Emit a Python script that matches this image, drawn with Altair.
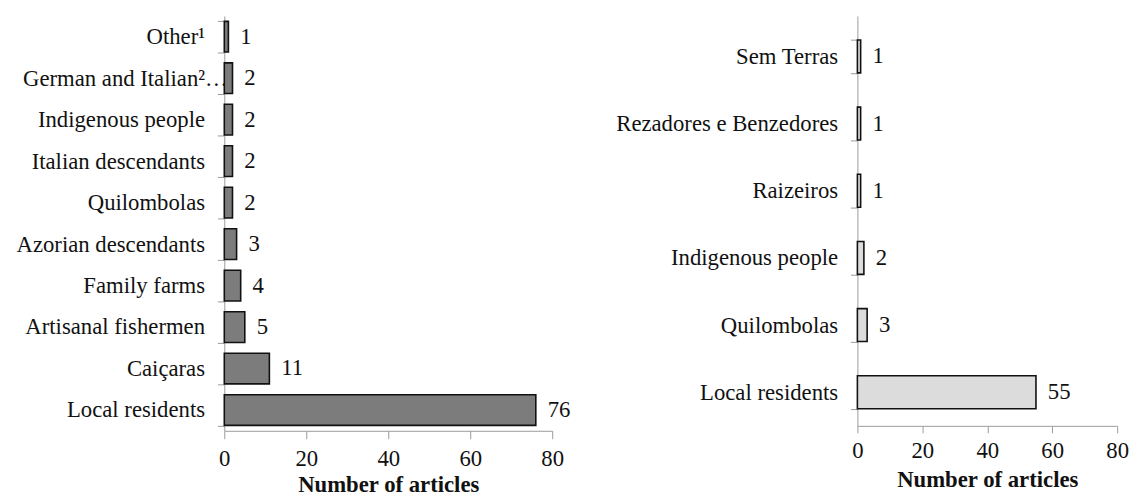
import altair as alt
import pandas as pd

left_cats = ["Other¹", "German and Italian²…", "Indigenous people", "Italian descendants",
             "Quilombolas", "Azorian descendants", "Family farms", "Artisanal fishermen",
             "Caiçaras", "Local residents"]
left_vals = [1, 2, 2, 2, 2, 3, 4, 5, 11, 76]

right_cats = ["Sem Terras", "Rezadores e Benzedores", "Raizeiros", "Indigenous people",
              "Quilombolas", "Local residents"]
right_vals = [1, 1, 1, 2, 3, 55]

x_ticks = [0, 20, 40, 60, 80]

FONT = "Times New Roman, Liberation Serif, Times, serif"
AXIS_GRAY = "#9a9a9a"
FS = 23

left_df = pd.DataFrame({"cat": left_cats, "val": left_vals})
right_df = pd.DataFrame({"cat": right_cats, "val": right_vals})


def panel(df, cats, width, height, pad_inner, pad_outer, align, fill, label_pad,
          x_lab_pad, x_tick, title_pad):
    y = alt.Y("cat:N", sort=cats,
              scale=alt.Scale(paddingInner=pad_inner, paddingOuter=pad_outer, align=align),
              axis=alt.Axis(title=None, tickBand="extent", tickSize=7, labelPadding=label_pad,
                            labelFontSize=FS, labelFont=FONT, labelColor="#111",
                            domainColor=AXIS_GRAY, tickColor=AXIS_GRAY,
                            labelLimit=400))
    x = alt.X("val:Q", scale=alt.Scale(domain=[0, 80], nice=False),
              axis=alt.Axis(title="Number of articles", values=x_ticks, grid=False,
                            labelFlush=False,
                            tickSize=x_tick, labelPadding=x_lab_pad,
                            labelFontSize=FS, labelFont=FONT, labelColor="#111",
                            titleFontSize=FS, titleFont=FONT, titleFontWeight="bold",
                            titleColor="#111", titlePadding=title_pad,
                            domainColor=AXIS_GRAY, tickColor=AXIS_GRAY))
    bars = alt.Chart(df).mark_bar(fill=fill, stroke="#111", strokeWidth=1.6).encode(x=x, y=y)
    text = alt.Chart(df).mark_text(align="left", baseline="middle", dx=12, fontSize=FS,
                                   font=FONT, color="#111").encode(
        x=alt.X("val:Q"), y=alt.Y("cat:N", sort=cats), text=alt.Text("val:Q"))
    return (bars + text).properties(width=width, height=height)


left_pad = alt.ExprRef("datum.value == 'German and Italian²…' ? -10 : 13")
left = panel(left_df, left_cats, 332, 420, 0.26, 0.13, 0.5, "#7c7c7c", left_pad, 9, 8, 3)
right = panel(right_df, right_cats, 263, 415, 0.51, 0.306, 0.584, "#dcdcdc", 13, 7, 7, 6)

chart = alt.hconcat(left, right, spacing=45).properties(
    padding={"left": 8, "top": -6, "right": 0, "bottom": 0}
).configure(background="white", font=FONT).configure_view(stroke=None)

chart.save("out.html", embed_options={"renderer": "svg", "actions": False})
